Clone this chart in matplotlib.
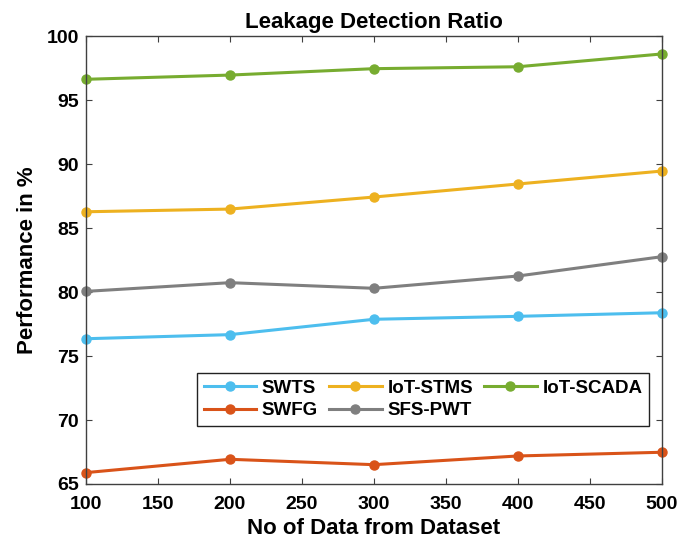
import numpy as np
import matplotlib.pyplot as plt

plt.rcParams['font.family'] = ['Liberation Sans', 'DejaVu Sans']
plt.rcParams['font.weight'] = 'bold'

# data
x = [100, 200, 300, 400, 500]
swts = [76.35, 76.67, 77.87, 78.1, 78.38]
iot_stms = [86.27, 86.48, 87.42, 88.44, 89.45]
iot_scada = [96.62, 96.95, 97.45, 97.6, 98.6]
swfg = [65.89, 66.93, 66.51, 67.19, 67.48]
sfs_pwt = [80.05, 80.73, 80.29, 81.25, 82.76]

names = ['SWTS', 'IoT-STMS', 'IoT-SCADA', 'SWFG', 'SFS-PWT']
series = [swts, iot_stms, iot_scada, swfg, sfs_pwt]
colors = ['#4DBEEE', '#EDB120', '#77AC30', '#D95319', '#7F7F7F']

fig = plt.figure(figsize=(6.79, 5.51), dpi=100)
ax = fig.add_axes([0.1267, 0.1216, 0.848, 0.813])

lines = {}
for name, vals, c in zip(names, series, colors):
    lines[name], = ax.plot(x, vals, '-o', color=c, lw=2.2, ms=6.5, label=name,
                           clip_on=False)

ax.set_xlim(100, 500)
ax.set_ylim(65, 100)
ax.set_xticks(np.arange(100, 501, 50))
ax.set_yticks(np.arange(65, 101, 5))
ax.tick_params(direction='in', length=4, width=0.8, labelsize=14,
               top=True, right=True, color='#404040')
ax.tick_params(axis='x', pad=9)
ax.tick_params(axis='y', pad=5)
for lab in ax.get_xticklabels() + ax.get_yticklabels():
    lab.set_fontweight('bold')
for s in ax.spines.values():
    s.set_linewidth(1.0)
    s.set_color('#404040')

ax.set_title('Leakage Detection Ratio', fontsize=16, fontweight='bold', pad=6)
ax.set_xlabel('No of Data from Dataset', fontsize=16, fontweight='bold', labelpad=3)
ax.set_ylabel('Performance in %', fontsize=16, fontweight='bold', labelpad=6)

# matplotlib fills legend columns first, so reorder for row-wise layout
order = ['SWTS', 'SWFG', 'IoT-STMS', 'SFS-PWT', 'IoT-SCADA']
leg = ax.legend([lines[n] for n in order], order, ncol=3, loc='upper left',
                bbox_to_anchor=(0.193, 0.248), fontsize=13.5, frameon=True,
                fancybox=False, edgecolor='#222222', handlelength=2.8,
                columnspacing=0.6, handletextpad=0.3, borderpad=0.35,
                borderaxespad=0, labelspacing=0.3, framealpha=1)
leg.get_frame().set_linewidth(1.0)
for t in leg.get_texts():
    t.set_fontweight('bold')

fig.savefig('out.png', dpi=100)
